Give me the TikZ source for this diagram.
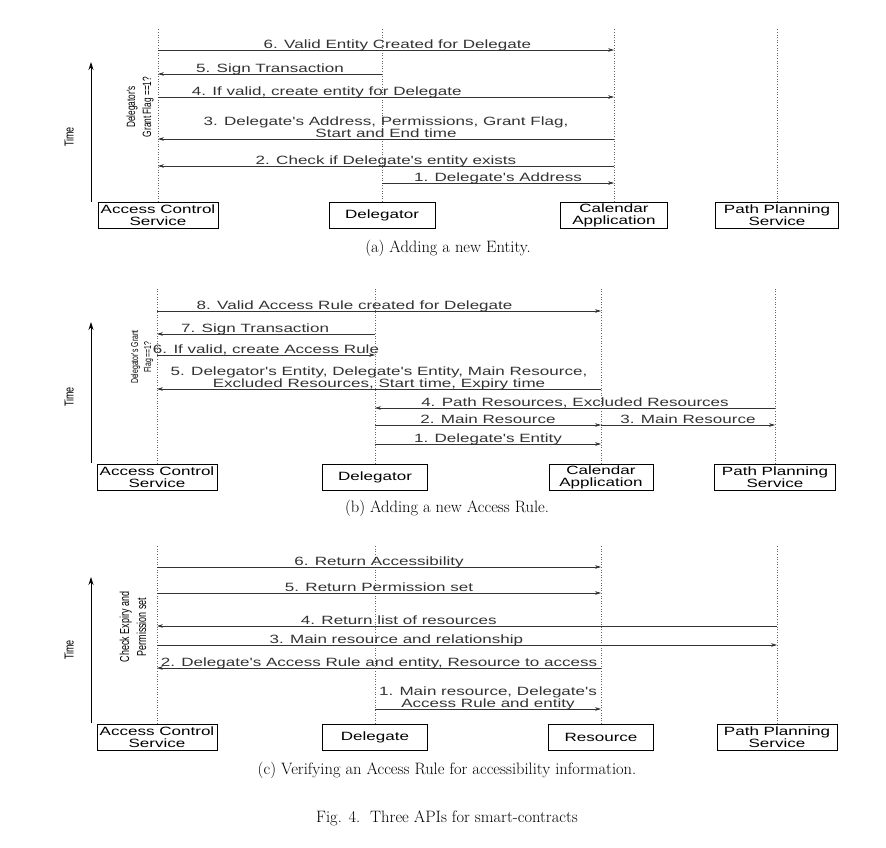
\documentclass[tikz,border=0pt]{standalone}
\usepackage{fontspec}
\usetikzlibrary{arrows.meta}
\newfontfamily\diagfont[FakeStretch=1.42]{Liberation Sans}
\newfontfamily\sidefont[FakeStretch=0.69]{Liberation Sans}

\begin{document}
\begin{tikzpicture}[x=1pt, y=-1pt, >={Stealth[length=6pt,width=3.6pt]},
    party/.style={draw, line width=0.8pt, minimum height=26pt, inner sep=0pt,
      align=center, font=\diagfont\fontsize{12}{12}\selectfont},
    lifeline/.style={dotted, black!60, line width=0.6pt},
    msg/.style={->, line width=0.6pt, black!80},
    lbl/.style={anchor=south, inner sep=0pt, text depth=0pt, yshift=1.5pt,
      align=center, font=\diagfont\fontsize{12}{12}\selectfont},
    timeline/.style={->, >={Stealth[length=8pt,width=5pt]}, line width=0.8pt},
    timelbl/.style={rotate=90, inner sep=0pt, font=\sidefont\fontsize{13}{13}\selectfont},
    subcap/.style={inner sep=0pt, font=\fontsize{16.5}{16.5}\selectfont}]
  \useasboundingbox (0,0) rectangle (886,848);

  % (a) adding a new entity
  \node[party, minimum width=120pt] (acsA) at (158,215) {Access Control\\Service};
  \node[party, minimum width=106pt] (delA) at (382,215) {Delegator};
  \node[party, minimum width=107pt] (calA) at (614,215) {Calendar\\Application};
  \node[party, minimum width=123pt] (ppsA) at (777,215) {Path Planning\\Service};
  \coordinate (topA) at (0,28);
  \draw[lifeline] (acsA.north) -- (acsA.north |- topA);
  \draw[lifeline] (delA.north) -- (delA.north |- topA);
  \draw[lifeline] (calA.north) -- (calA.north |- topA);
  \draw[lifeline] (ppsA.north) -- (ppsA.north |- topA);
  \draw[msg] (acsA |- 0,50) -- node[lbl, pos=.525] {6. Valid Entity Created for Delegate} (calA |- 0,50);
  \draw[msg] (delA |- 0,74) -- node[lbl] {5. Sign Transaction} (acsA |- 0,74);
  \draw[msg] (acsA |- 0,97) -- node[lbl, pos=.37] {4. If valid, create entity for Delegate} (calA |- 0,97);
  \draw[msg] (calA |- 0,139) -- node[lbl] {3. Delegate's Address, Permissions, Grant Flag,\\Start and End time} (acsA |- 0,139);
  \draw[msg] (calA |- 0,166) -- node[lbl] {2. Check if Delegate's entity exists} (acsA |- 0,166);
  \draw[msg] (delA |- 0,183) -- node[lbl] {1. Delegate's Address} (calA |- 0,183);
  \node[rotate=90, align=center, inner sep=0pt, font=\sidefont\fontsize{12}{16}\selectfont] (flagA) at (140,107) {Delegator's\\Grant Flag ==1?};
  \coordinate (tA0) at (91,202);
  \coordinate (tA1) at (91,62);
  \draw[timeline] (tA0) -- (tA1);
  \node[timelbl] (timeA) at (69,137) {Time};
  \node[subcap] (capA) at (448,248) {(a) Adding a new Entity.};

  % (b) adding a new access rule
  \node[party, minimum width=120pt] (acsB) at (157,477) {Access Control\\Service};
  \node[party, minimum width=105pt] (delB) at (375,477) {Delegator};
  \node[party, minimum width=104pt] (calB) at (601,477) {Calendar\\Application};
  \node[party, minimum width=121pt] (ppsB) at (775,477) {Path Planning\\Service};
  \coordinate (topB) at (0,287);
  \draw[lifeline] (acsB.north) -- (acsB.north |- topB);
  \draw[lifeline] (delB.north) -- (delB.north |- topB);
  \draw[lifeline] (calB.north) -- (calB.north |- topB);
  \draw[lifeline] (ppsB.north) -- (ppsB.north |- topB);
  \draw[msg] (acsB |- 0,311) -- node[lbl, pos=.445] {8. Valid Access Rule created for Delegate} (calB |- 0,311);
  \draw[msg] (delB |- 0,334) -- node[lbl, pos=.55] {7. Sign Transaction} (acsB |- 0,334);
  \draw[msg] (acsB |- 0,355) -- node[lbl] {6. If valid, create Access Rule} (delB |- 0,355);
  \draw[msg] (calB |- 0,389) -- node[lbl] {5. Delegator's Entity, Delegate's Entity, Main Resource,\\Excluded Resources, Start time, Expiry time} (acsB |- 0,389);
  \draw[msg] (ppsB |- 0,408) -- node[lbl] {4. Path Resources, Excluded Resources} (delB |- 0,408);
  \draw[msg] (delB |- 0,425) -- node[lbl] {2. Main Resource} (calB |- 0,425);
  \draw[msg] (calB |- 0,425) -- node[lbl] {3. Main Resource} (ppsB |- 0,425);
  \draw[msg] (delB |- 0,444) -- node[lbl] {1. Delegate's Entity} (calB |- 0,444);
  \node[rotate=90, align=center, inner sep=0pt, font=\sidefont\fontsize{10}{13}\selectfont] (flagB) at (142,357) {Delegator's Grant\\Flag ==1?};
  \coordinate (tB0) at (91,463);
  \coordinate (tB1) at (91,322);
  \draw[timeline] (tB0) -- (tB1);
  \node[timelbl] (timeB) at (69,397) {Time};
  \node[subcap] (capB) at (447,508) {(b) Adding a new Access Rule.};

  % (c) verifying an access rule
  \node[party, minimum width=120pt] (acsC) at (157,737) {Access Control\\Service};
  \node[party, minimum width=105pt] (delC) at (375,737) {Delegate};
  \node[party, minimum width=105pt] (resC) at (601,737) {Resource};
  \node[party, minimum width=120pt] (ppsC) at (777,737) {Path Planning\\Service};
  \coordinate (topC) at (0,545);
  \draw[lifeline] (acsC.north) -- (acsC.north |- topC);
  \draw[lifeline] (delC.north) -- (delC.north |- topC);
  \draw[lifeline] (resC.north) -- (resC.north |- topC);
  \draw[lifeline] (ppsC.north) -- (ppsC.north |- topC);
  \draw[msg] (acsC |- 0,567) -- node[lbl] {6. Return Accessibility} (resC |- 0,567);
  \draw[msg] (acsC |- 0,593) -- node[lbl] {5. Return Permission set} (resC |- 0,593);
  \draw[msg] (ppsC |- 0,626) -- node[lbl, pos=.61] {4. Return list of resources} (acsC |- 0,626);
  \draw[msg] (acsC |- 0,645) -- node[lbl, pos=.386] {3. Main resource and relationship} (ppsC |- 0,645);
  \draw[msg] (resC |- 0,668) -- node[lbl] {2. Delegate's Access Rule and entity, Resource to access} (acsC |- 0,668);
  \draw[msg] (delC |- 0,709) -- node[lbl] {1. Main resource, Delegate's\\Access Rule and entity} (resC |- 0,709);
  \node[rotate=90, align=center, inner sep=0pt, font=\sidefont\fontsize{13}{17}\selectfont] (checkC) at (133,627) {Check Expiry and\\Permission set};
  \coordinate (tC0) at (91,723);
  \coordinate (tC1) at (91,577);
  \draw[timeline] (tC0) -- (tC1);
  \node[timelbl] (timeC) at (69,650) {Time};
  \node[subcap] (capC) at (447,770) {(c) Verifying an Access Rule for accessibility information.};

  \node[subcap] (fig) at (447,818) {Fig. 4.\ \ Three APIs for smart-contracts};
\end{tikzpicture}
\end{document}
